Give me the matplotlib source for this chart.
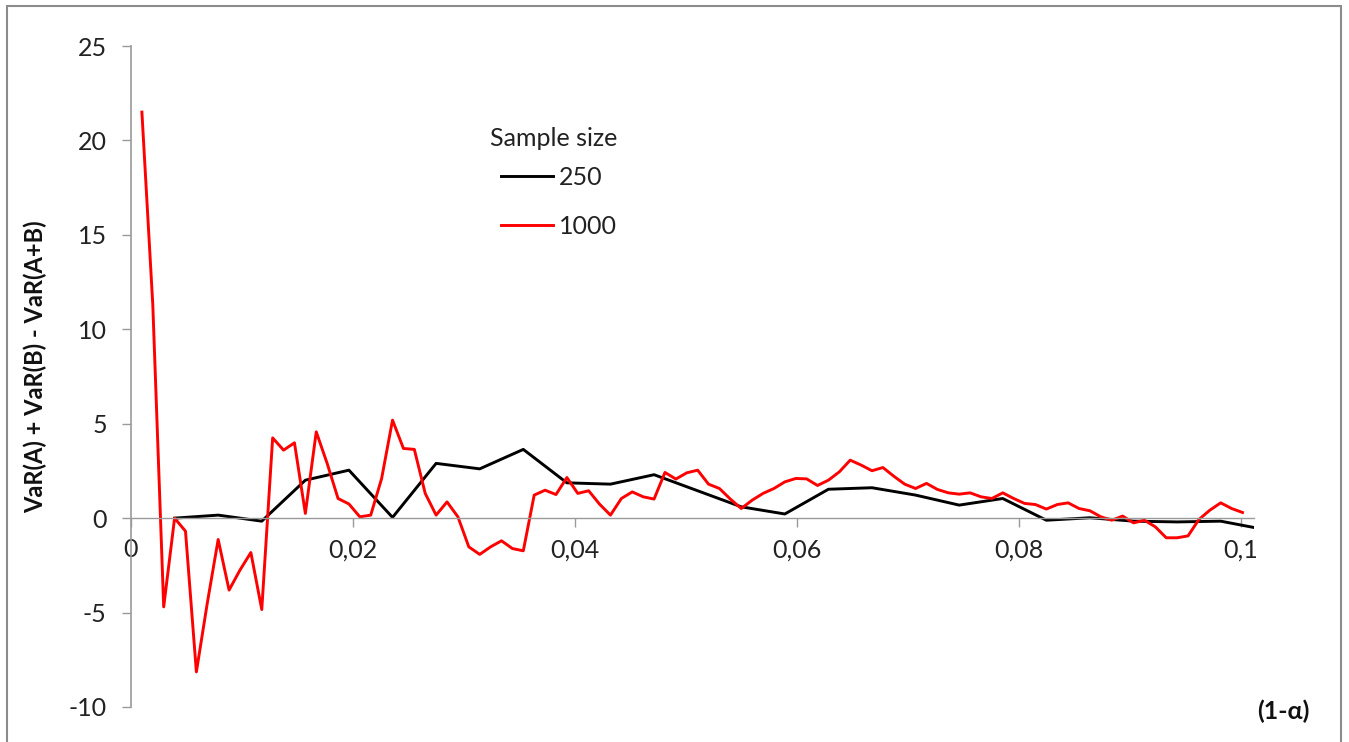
import numpy as np
import matplotlib
matplotlib.use("Agg")
import matplotlib.pyplot as plt
from matplotlib.patches import Rectangle
from matplotlib.ticker import FuncFormatter, MultipleLocator

plt.rcParams['font.family'] = ['Lato', 'DejaVu Sans']

# grid step of the quantile levels (1-alpha)
step = 0.000982

# sample size 1000: one point per step
red_y = [21.5, 11.3, -4.70, 0.0, -0.69, -8.14, -4.5, -1.13, -3.81, -2.75,
         -1.82, -4.84, 4.25, 3.60, 3.99, 0.25, 4.57, 2.9, 1.04, 0.75,
         0.07, 0.16, 2.10, 5.19, 3.69, 3.64, 1.31, 0.16, 0.86, 0.07,
         -1.52, -1.92, -1.52, -1.20, -1.61, -1.73, 1.22, 1.48, 1.25, 2.15,
         1.31, 1.45, 0.74, 0.16, 1.04, 1.39, 1.13, 1.01, 2.42, 2.07,
         2.40, 2.54, 1.80, 1.57, 1.01, 0.51, 0.95, 1.31, 1.57, 1.92,
         2.10, 2.08, 1.73, 2.01, 2.45, 3.07, 2.81, 2.51, 2.68, 2.22,
         1.80, 1.57, 1.84, 1.52, 1.34, 1.27, 1.34, 1.13, 1.04, 1.34,
         1.04, 0.78, 0.72, 0.48, 0.72, 0.81, 0.51, 0.39, 0.07, -0.11,
         0.11, -0.25, -0.11, -0.46, -1.04, -1.04, -0.94, -0.07, 0.42, 0.81,
         0.51, 0.30]
red_x = np.arange(1, len(red_y) + 1) * step

# sample size 250: one point every 4 steps
black_y = [0.0, 0.16, -0.16, 2.01, 2.54, 0.04, 2.90, 2.61, 3.64, 1.87,
           1.80, 2.30, 1.45, 0.60, 0.22, 1.53, 1.61, 1.22, 0.69, 1.04,
           -0.11, 0.02, -0.16, -0.20, -0.16, -0.60]
black_x = np.arange(1, len(black_y) + 1) * 4 * step

W, H = 1349, 742
fig = plt.figure(figsize=(W / 100, H / 100), dpi=100)
ax = fig.add_axes([131 / W, 1 - 707 / H, (1254 - 131) / W, (707 - 46) / H])

axis_col = '#9a9a9a'
txt_col = '#222222'
fs = 18

ax.plot(black_x, black_y, color='black', lw=2.1, label='250')
ax.plot(red_x, red_y, color='#ff0000', lw=2.1, label='1000')

ax.set_xlim(0, 0.1012)
ax.set_ylim(-10, 25)

for s in ['top', 'right']:
    ax.spines[s].set_visible(False)
ax.spines['left'].set_position(('data', 0))
ax.spines['bottom'].set_position(('data', 0))
ax.spines['left'].set_color(axis_col)
ax.spines['bottom'].set_color(axis_col)
ax.spines['left'].set_linewidth(1.2)
ax.spines['bottom'].set_linewidth(1.0)

ax.xaxis.set_major_locator(MultipleLocator(0.02))
ax.yaxis.set_major_locator(MultipleLocator(5))
ax.xaxis.set_major_formatter(FuncFormatter(lambda v, p: f'{v:g}'.replace('.', ',')))
ax.yaxis.set_major_formatter(FuncFormatter(lambda v, p: f'{v:.0f}'))
ax.tick_params(axis='both', colors=axis_col, labelcolor=txt_col, labelsize=fs,
               direction='out', length=6.5, width=1)
ax.tick_params(axis='x', pad=8)
ax.tick_params(axis='y', pad=11)

ax.set_ylabel('VaR(A) + VaR(B) - VaR(A+B)', fontsize=17, fontweight='bold',
              color='#111111')
ax.yaxis.set_label_coords(-84 / (1254 - 131), 0.515)
fig.text(1283 / W, 1 - 711 / H, '(1-α)', fontsize=fs, fontweight='bold',
         color='#111111', ha='center', va='center')

# legend title placed on its own, entries below it
fig.text(490 / W, 1 - 139 / H, 'Sample size', fontsize=fs, color=txt_col,
         ha='left', va='center')
leg = ax.legend(frameon=False, fontsize=fs, loc='upper left',
                bbox_to_anchor=(501 / W, 1 - 166 / H),
                bbox_transform=fig.transFigure, borderpad=0, borderaxespad=0,
                handlelength=2.08, handletextpad=0.25, labelspacing=1.03)
for t in leg.get_texts():
    t.set_color(txt_col)

# outer chart frame
fig.patches.append(Rectangle((7 / W, -0.05), (1341 - 7) / W, 1.05 - 6 / H,
                             transform=fig.transFigure, fill=False,
                             edgecolor='#8c8c8c', lw=1.5))

fig.savefig('out.png', dpi=100)
